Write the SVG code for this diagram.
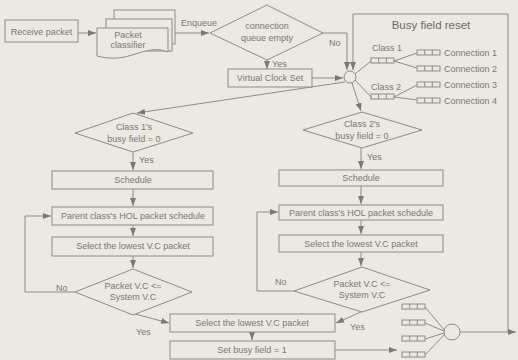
<svg xmlns="http://www.w3.org/2000/svg" width="518" height="360" viewBox="0 0 518 360">
<defs>
<style>
.bg{fill:#ebe9e1}
.s{fill:none;stroke:#8f8b83;stroke-width:1}
.b{fill:#ebe9e1;stroke:#8f8b83;stroke-width:1}
.t{font-family:"Liberation Sans",Arial,sans-serif;font-size:9px;fill:#7b7770;text-anchor:middle}
.l{font-family:"Liberation Sans",Arial,sans-serif;font-size:9px;fill:#7b7770}
.h{font-family:"Liberation Sans",Arial,sans-serif;font-size:11.5px;fill:#6e6a63;text-anchor:middle}
</style>
<marker id="a" viewBox="0 0 8 6" refX="8" refY="3" markerWidth="8" markerHeight="6" markerUnits="userSpaceOnUse" orient="auto">
<path d="M0,0 L8,3 L0,6 Z" fill="#7d7971"/>
</marker>
<g id="q3"><rect x="0" y="0" width="23" height="5" class="b"/><line x1="7.7" y1="0" x2="7.7" y2="5" class="s"/><line x1="15.3" y1="0" x2="15.3" y2="5" class="s"/></g>
</defs>
<rect class="bg" x="0" y="0" width="518" height="360"/>

<g id="connectors">
<line class="s" x1="78" y1="33" x2="96" y2="33" marker-end="url(#a)"/>
<line class="s" x1="168" y1="33" x2="209" y2="33" marker-end="url(#a)"/>
<line class="s" x1="267" y1="60" x2="267" y2="69" marker-end="url(#a)"/>
<polyline class="s" points="323,33 347,33 347,70" marker-end="url(#a)"/>
<line class="s" x1="312" y1="78" x2="343" y2="78" marker-end="url(#a)"/>
<polyline class="s" points="460,332 516,332" marker-end="url(#a)"/>
<polyline class="s" points="508,332 508,14 353,14 353,70" marker-end="url(#a)"/>
<line class="s" x1="345" y1="82" x2="137" y2="113" marker-end="url(#a)"/>
<line class="s" x1="352" y1="83" x2="361" y2="111" marker-end="url(#a)"/>
<line class="s" x1="355" y1="74" x2="371" y2="61"/>
<line class="s" x1="355" y1="80" x2="371" y2="97"/>
<line class="s" x1="394" y1="61" x2="417" y2="53"/>
<line class="s" x1="394" y1="61" x2="417" y2="68"/>
<line class="s" x1="394" y1="97" x2="417" y2="85"/>
<line class="s" x1="394" y1="97" x2="417" y2="100"/>
<!-- left column -->
<line class="s" x1="133" y1="152" x2="133" y2="170" marker-end="url(#a)"/>
<line class="s" x1="133" y1="189" x2="133" y2="206" marker-end="url(#a)"/>
<line class="s" x1="133" y1="225" x2="133" y2="236" marker-end="url(#a)"/>
<line class="s" x1="133" y1="256" x2="133" y2="268" marker-end="url(#a)"/>
<polyline class="s" points="75,292 25,292 25,216 51,216" marker-end="url(#a)"/>
<line class="s" x1="135" y1="314" x2="169" y2="323" marker-end="url(#a)"/>
<!-- right column -->
<line class="s" x1="361" y1="148" x2="361" y2="169" marker-end="url(#a)"/>
<line class="s" x1="361" y1="186" x2="361" y2="204" marker-end="url(#a)"/>
<line class="s" x1="361" y1="220" x2="361" y2="234" marker-end="url(#a)"/>
<line class="s" x1="361" y1="252" x2="361" y2="266" marker-end="url(#a)"/>
<polyline class="s" points="294,291 257,291 257,212 278,212" marker-end="url(#a)"/>
<line class="s" x1="361" y1="312" x2="336" y2="323" marker-end="url(#a)"/>
<!-- bottom -->
<line class="s" x1="252" y1="332" x2="252" y2="340" marker-end="url(#a)"/>
<line class="s" x1="335" y1="350" x2="397" y2="350" marker-end="url(#a)"/>
<line class="s" x1="425" y1="307" x2="445" y2="331"/>
<line class="s" x1="425" y1="323" x2="444" y2="331"/>
<line class="s" x1="425" y1="339" x2="444" y2="333"/>
<line class="s" x1="425" y1="355" x2="445" y2="334"/>
</g>

<g id="receive"><rect class="b" x="5" y="20" width="73" height="22"/><text class="t" x="41.5" y="34.5">Receive packet</text></g>
<g id="classifier">
<rect class="b" x="114" y="10" width="61" height="34"/>
<rect class="b" x="106" y="19" width="66" height="32"/>
<path class="b" d="M97,28 H168 V52 C156,47 145,51 132,55 C120,59 108,59 97,56 Z"/>
<text class="t" x="128" y="38">Packet</text><text class="t" x="128" y="48">classifier</text>
</g>
<text class="l" x="181" y="26">Enqueue</text>
<g id="cqempty"><polygon class="b" points="210,33 267,5 323,33 267,60"/><text class="t" x="267" y="29">connection</text><text class="t" x="267" y="41">queue empty</text></g>
<text class="l" x="272" y="67">Yes</text>
<text class="l" x="329" y="46">No</text>
<g id="vcs"><rect class="b" x="228" y="69" width="84" height="18"/><text class="t" x="270" y="81">Virtual Clock Set</text></g>
<g id="sched-circle"><circle class="b" cx="350" cy="77" r="6"/></g>
<g id="busyreset">
<text class="h" x="431" y="29">Busy field reset</text>
<text class="l" x="372" y="51">Class 1</text>
<use href="#q3" x="371" y="58"/>
<text class="l" x="371" y="90">Class 2</text>
<use href="#q3" x="371" y="94"/>
<use href="#q3" x="417" y="50"/><text class="l" x="444" y="56">Connection 1</text>
<use href="#q3" x="417" y="66"/><text class="l" x="444" y="72">Connection 2</text>
<use href="#q3" x="417" y="82"/><text class="l" x="444" y="88">Connection 3</text>
<use href="#q3" x="417" y="98"/><text class="l" x="444" y="104">Connection 4</text>
</g>

<g id="c1busy"><polygon class="b" points="75,133 133,113 193,133 133,152"/><text class="t" x="134" y="130">Class 1's</text><text class="t" x="134" y="142">busy field = 0</text></g>
<text class="l" x="139" y="163">Yes</text>
<g id="c1sched"><rect class="b" x="52" y="171" width="161" height="18"/><text class="t" x="133" y="183">Schedule</text></g>
<g id="c1parent"><rect class="b" x="52" y="207" width="161" height="18"/><text class="t" x="133" y="219">Parent class's HOL packet schedule</text></g>
<g id="c1select"><rect class="b" x="52" y="237" width="161" height="19"/><text class="t" x="133" y="249">Select the lowest V.C packet</text></g>
<g id="c1vc"><polygon class="b" points="75,292 133,269 192,292 133,315"/><text class="t" x="133" y="289">Packet V.C &lt;=</text><text class="t" x="133" y="300">System V.C</text></g>
<text class="l" x="56" y="291">No</text>
<text class="l" x="136" y="335">Yes</text>

<g id="c2busy"><polygon class="b" points="303,130 362,112 422,130 362,148"/><text class="t" x="362" y="127">Class 2's</text><text class="t" x="362" y="139">busy field = 0</text></g>
<text class="l" x="367" y="160">Yes</text>
<g id="c2sched"><rect class="b" x="279" y="170" width="164" height="16"/><text class="t" x="361" y="181">Schedule</text></g>
<g id="c2parent"><rect class="b" x="279" y="205" width="164" height="15"/><text class="t" x="361" y="216">Parent class's HOL packet schedule</text></g>
<g id="c2select"><rect class="b" x="279" y="235" width="164" height="17"/><text class="t" x="361" y="247">Select the lowest V.C packet</text></g>
<g id="c2vc"><polygon class="b" points="294,291 362,267 430,290 362,312"/><text class="t" x="362" y="287">Packet V.C &lt;=</text><text class="t" x="362" y="298">System V.C</text></g>
<text class="l" x="275" y="285">No</text>
<text class="l" x="350" y="330">Yes</text>

<g id="bselect"><rect class="b" x="170" y="314" width="165" height="18"/><text class="t" x="252" y="326">Select the lowest V.C packet</text></g>
<g id="bset"><rect class="b" x="170" y="341" width="165" height="18"/><text class="t" x="252" y="353">Set busy field = 1</text></g>
<g id="outqueues">
<use href="#q3" x="402" y="304"/>
<use href="#q3" x="402" y="320"/>
<use href="#q3" x="402" y="336"/>
<use href="#q3" x="402" y="352"/>
<circle class="b" cx="452" cy="332" r="8"/>
</g>
</svg>
